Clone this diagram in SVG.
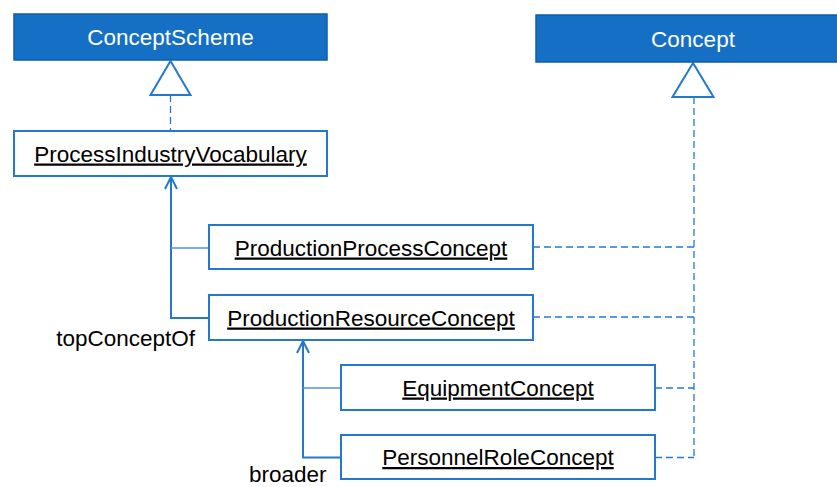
<svg xmlns="http://www.w3.org/2000/svg" width="837" height="487" viewBox="0 0 837 487">
  <defs>
    <style>
      .cls { fill: #1570C5; stroke: #0F5EA8; stroke-width: 1.5; }
      .cls-t { fill: #ffffff; font-family: "Liberation Sans", Arial, sans-serif; font-size: 22.5px; text-anchor: middle; }
      .inst { fill: #ffffff; stroke: #2479CE; stroke-width: 2; }
      .inst-t { fill: #000000; font-family: "Liberation Sans", Arial, sans-serif; font-size: 22.5px; text-anchor: middle; text-decoration: underline; }
      .lbl { fill: #000000; font-family: "Liberation Sans", Arial, sans-serif; font-size: 22.5px; }
      .gen { fill: #ffffff; stroke: #2479CE; stroke-width: 2; }
      .dash { fill: none; stroke: #2479CE; stroke-width: 1.3; stroke-dasharray: 7 4; }
      .solid { fill: none; stroke: #2479CE; stroke-width: 2; }
      .stub { fill: none; stroke: #4D94DA; stroke-width: 1.3; }
    </style>
  </defs>

  <!-- connectors -->
  <g id="connectors">
    <!-- realization of ConceptScheme -->
    <line class="dash" x1="170.5" y1="95" x2="170.5" y2="131"/>
    <polygon class="gen" points="170.5,61 150.5,95 190.5,95"/>

    <!-- realization of Concept -->
    <line class="dash" x1="694" y1="97" x2="694" y2="458"/>
    <line class="dash" x1="533" y1="247" x2="694" y2="247"/>
    <line class="dash" x1="533" y1="317" x2="694" y2="317"/>
    <line class="dash" x1="655" y1="388" x2="694" y2="388"/>
    <line class="dash" x1="655" y1="457.5" x2="694" y2="457.5"/>
    <polygon class="gen" points="693,63 672.5,97 713.5,97"/>

    <!-- topConceptOf -->
    <polyline class="solid" points="209,318 171,318 171,177"/>
    <polyline class="solid" points="165,189 171,177 177,189"/>
    <line class="stub" x1="171" y1="248" x2="209" y2="248"/>

    <!-- broader -->
    <polyline class="solid" points="341,457.5 303,457.5 303,341"/>
    <polyline class="solid" points="297,353 303,341 309,353"/>
    <line class="stub" x1="303" y1="388" x2="341" y2="388"/>
  </g>

  <!-- connector labels -->
  <text class="lbl" x="195" y="346" text-anchor="end">topConceptOf</text>
  <text class="lbl" x="249" y="481.5">broader</text>

  <!-- class nodes -->
  <g id="ConceptScheme">
    <rect class="cls" x="14" y="14" width="313" height="46"/>
    <text class="cls-t" x="170.5" y="45">ConceptScheme</text>
  </g>
  <g id="Concept">
    <rect class="cls" x="536" y="15" width="314" height="47"/>
    <text class="cls-t" x="693" y="46.5">Concept</text>
  </g>

  <!-- instance nodes -->
  <g id="ProcessIndustryVocabulary">
    <rect class="inst" x="14" y="131" width="313" height="45"/>
    <text class="inst-t" x="170.5" y="161.5">ProcessIndustryVocabulary</text>
  </g>
  <g id="ProductionProcessConcept">
    <rect class="inst" x="209" y="225" width="324" height="44"/>
    <text class="inst-t" x="371" y="255.5">ProductionProcessConcept</text>
  </g>
  <g id="ProductionResourceConcept">
    <rect class="inst" x="209" y="295" width="324" height="45"/>
    <text class="inst-t" x="371" y="325.5">ProductionResourceConcept</text>
  </g>
  <g id="EquipmentConcept">
    <rect class="inst" x="341" y="365" width="314" height="45"/>
    <text class="inst-t" x="498" y="395.5">EquipmentConcept</text>
  </g>
  <g id="PersonnelRoleConcept">
    <rect class="inst" x="341" y="435" width="314" height="44"/>
    <text class="inst-t" x="498" y="465">PersonnelRoleConcept</text>
  </g>
</svg>
